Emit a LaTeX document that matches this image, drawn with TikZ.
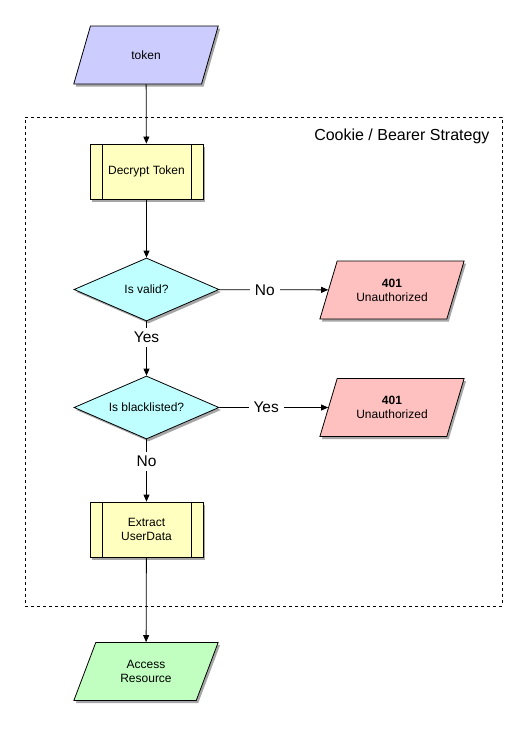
\documentclass[tikz,border=0pt]{standalone}
\usepackage{fontspec}
\setmainfont{Liberation Sans}
\usetikzlibrary{shapes.geometric,shadows,arrows.meta}
\definecolor{inputblue}{HTML}{CCCCFF}
\definecolor{procyellow}{HTML}{FFFFC0}
\definecolor{deccyan}{HTML}{C0FFFF}
\definecolor{errpink}{HTML}{FFC0C0}
\definecolor{okgreen}{HTML}{C0FFC0}
\tikzset{
  shad/.style={drop shadow={shadow xshift=2pt,shadow yshift=-2.5pt,fill=black,opacity=0.35}},
  iobox/.style={trapezium, trapezium left angle=63.4, trapezium right angle=116.6,
    trapezium stretches=true, minimum width=145pt, minimum height=58pt, inner sep=0pt,
    draw=black, line width=0.8pt, shad, align=center, font=\fontsize{12}{14}\selectfont},
  procbox/.style={rectangle, draw=black, line width=0.8pt, fill=procyellow, shad,
    minimum width=113pt, minimum height=55pt, inner sep=0pt, align=center,
    font=\fontsize{12}{14}\selectfont,
    path picture={\draw[line width=0.8pt] ([xshift=12pt]path picture bounding box.north west) -- ([xshift=12pt]path picture bounding box.south west);
      \draw[line width=0.8pt] ([xshift=-12pt]path picture bounding box.north east) -- ([xshift=-12pt]path picture bounding box.south east);}},
  decbox/.style={diamond, draw=black, line width=0.8pt, fill=deccyan, shad,
    minimum width=145pt, minimum height=63pt, inner sep=0pt, aspect=2.3,
    font=\fontsize{12}{14}\selectfont},
  lbl/.style={fill=white, inner xsep=5pt, inner ysep=4pt, font=\fontsize{15.5}{17}\selectfont},
  conn/.style={line width=0.8pt, -{Triangle[length=7pt,width=6pt]}},
  container/.style={draw=black, dashed, dash pattern=on 3pt off 3pt, line width=0.8pt, inner sep=0pt}
}
\begin{document}
\begin{tikzpicture}[x=1pt,y=-1pt]
\useasboundingbox (0,0) rectangle (526,731);
\node[container, minimum width=477pt, minimum height=489pt] (group) at (263.5,361.5) {};
\node[anchor=east, font=\fontsize{16}{18}\selectfont] (title) at (493,136) {Cookie / Bearer Strategy};

\node[iobox, fill=inputblue] (token) at (146,55) {token};
\node[procbox] (decrypt) at (146.5,171.5) {Decrypt Token};
\node[decbox] (valid) at (146.5,289.5) {Is valid?};
\node[iobox, fill=errpink] (err1) at (392,290) {\textbf{401}\\Unauthorized};
\node[decbox] (black) at (146.5,407.5) {Is blacklisted?};
\node[iobox, fill=errpink] (err2) at (392,407.5) {\textbf{401}\\Unauthorized};
\node[procbox] (extract) at (146.5,529.5) {Extract\\UserData};
\node[iobox, fill=okgreen] (access) at (146,671.5) {Access\\Resource};

\draw[conn] (token) -- (decrypt);
\draw[conn] (decrypt) -- (valid);
\draw[conn] (valid) -- node[lbl, pos=0.42] {No} (err1);
\draw[conn] (valid) -- node[lbl, pos=0.29] {Yes} (black);
\draw[conn] (black) -- node[lbl, pos=0.43] {Yes} (err2);
\draw[conn] (black) -- node[lbl, pos=0.35] {No} (extract);
\draw[conn] (extract) -- (access);
\end{tikzpicture}
\end{document}
